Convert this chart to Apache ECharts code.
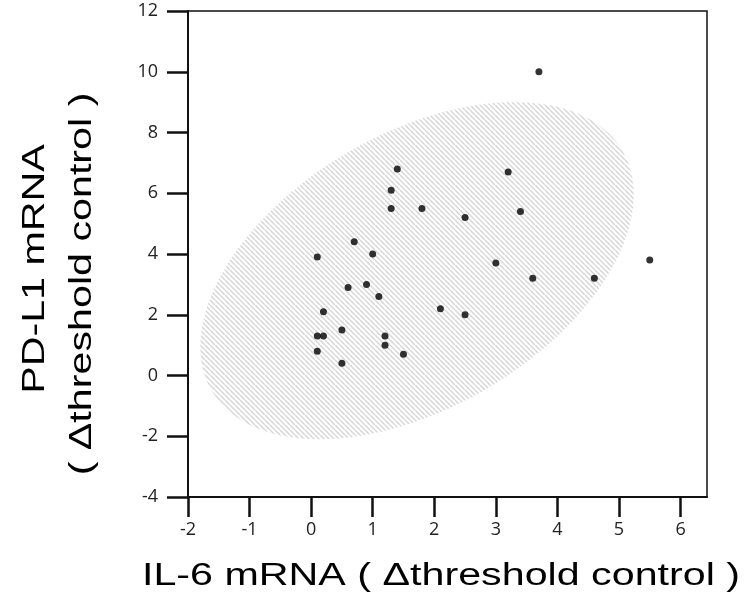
<!DOCTYPE html>
<html>
<head>
<meta charset="utf-8">
<script src="https://cdn.jsdelivr.net/npm/echarts@6/dist/echarts.min.js"></script>
<style>
html,body{margin:0;padding:0;background:#fff;}
#chart{width:752px;height:592px;}
</style>
</head>
<body>
<div id="chart"></div>
<script>
// ---- data ----
const il6 = [3.7, 1.4, 3.2, 1.3, 1.3, 1.8, 2.5, 3.4, 0.7, 0.1, 1.0, 3.0, 5.5, 3.6, 4.6,
             0.6, 0.9, 1.1, 0.2, 2.1, 2.5, 0.1, 0.2, 0.5, 1.2, 1.2, 0.1, 1.5, 0.5];
const pdl1 = [10.0, 6.8, 6.7, 6.1, 5.5, 5.5, 5.2, 5.4, 4.4, 3.9, 4.0, 3.7, 3.8, 3.2, 3.2,
              2.9, 3.0, 2.6, 2.1, 2.2, 2.0, 1.3, 1.3, 1.5, 1.3, 1.0, 0.8, 0.7, 0.4];
const xTicks = [-2, -1, 0, 1, 2, 3, 4, 5, 6];
const yTicks = [-4, -2, 0, 2, 4, 6, 8, 10, 12];
// confidence ellipse (data units): centre and covariance-like shape matrix
const ellipseCenter = [1.72, 3.45];
const ellipseShape = [[12.39, 8.8], [8.8, 30.8]];

const xName = 'IL-6 mRNA ( Δthreshold control )';
const yNameLines = ['PD-L1 mRNA', '( Δthreshold control )'];

// ---- hatch pattern ----
function makeHatch() {
  const s = 5;
  const c = document.createElement('canvas');
  c.width = s; c.height = s;
  const g = c.getContext('2d');
  g.fillStyle = '#ffffff';
  g.fillRect(0, 0, s, s);
  g.strokeStyle = '#d6d6d6';
  g.lineWidth = 1.5;
  for (let k = -1; k <= 1; k++) {
    g.beginPath();
    g.moveTo(k * s, 0);
    g.lineTo(k * s + s, s);
    g.stroke();
  }
  return c;
}
const hatch = makeHatch();

const points = il6.map((v, i) => [v, pdl1[i]]);

const chart = echarts.init(document.getElementById('chart'), null, {renderer: 'canvas'});

const titleFont = 'Liberation Sans';
const titleSize = 31;
const stretch = 1.33;

chart.setOption({
  animation: false,
  backgroundColor: '#fff',
  textStyle: {fontFamily: 'Open Sans'},
  grid: {
    left: 188, right: 45, top: 11, bottom: 95,
    show: true, borderColor: '#111', borderWidth: 1.5,
    containLabel: false, outerBoundsMode: 'none'
  },
  xAxis: {
    type: 'value', min: -2, max: 6.43, interval: 1,
    axisLine: {show: true, onZero: false, lineStyle: {color: '#111', width: 2}},
    axisTick: {show: true, length: 20, customValues: xTicks, lineStyle: {color: '#111', width: 2.5}},
    axisLabel: {
      show: true, customValues: xTicks, margin: 24,
      fontSize: 18, fontFamily: 'Open Sans', color: '#222',
      textStyle: {fontSize: 18, fontFamily: 'Open Sans', color: '#222'}
    },
    splitLine: {show: false}
  },
  yAxis: {
    type: 'value', min: -4, max: 12, interval: 2,
    axisLine: {show: true, onZero: false, lineStyle: {color: '#111', width: 2}},
    axisTick: {show: true, length: 21, customValues: yTicks, lineStyle: {color: '#111', width: 2.5}},
    axisLabel: {
      show: true, customValues: yTicks, margin: 30,
      fontSize: 18, fontFamily: 'Open Sans', color: '#222',
      textStyle: {fontSize: 18, fontFamily: 'Open Sans', color: '#222'}
    },
    splitLine: {show: false}
  },
  graphic: [
    {
      type: 'text', x: 441, y: 576, scaleX: stretch,
      style: {text: xName, font: titleSize + 'px "' + titleFont + '"', fill: '#000', align: 'center', verticalAlign: 'middle'}
    },
    {
      type: 'text', x: 35, y: 269, rotation: Math.PI / 2, scaleX: stretch,
      style: {text: yNameLines[0], font: titleSize + 'px "' + titleFont + '"', fill: '#000', align: 'center', verticalAlign: 'middle'}
    },
    {
      type: 'text', x: 82, y: 284, rotation: Math.PI / 2, scaleX: stretch,
      style: {text: yNameLines[1], font: titleSize + 'px "' + titleFont + '"', fill: '#000', align: 'center', verticalAlign: 'middle'}
    }
  ],
  series: [
    {
      type: 'custom',
      silent: true,
      z: 1,
      data: [ellipseCenter],
      encode: {x: 0, y: 1},
      renderItem: function (params, api) {
        const sxx = ellipseShape[0][0], sxy = ellipseShape[0][1], syy = ellipseShape[1][1];
        const l11 = Math.sqrt(sxx);
        const l21 = sxy / l11;
        const l22 = Math.sqrt(syy - l21 * l21);
        const pts = [];
        for (let i = 0; i < 120; i++) {
          const t = i / 120 * Math.PI * 2;
          const dx = l11 * Math.cos(t);
          const dy = l21 * Math.cos(t) + l22 * Math.sin(t);
          pts.push(api.coord([ellipseCenter[0] + dx, ellipseCenter[1] + dy]));
        }
        return {
          type: 'polygon',
          shape: {points: pts},
          style: {fill: {image: hatch, repeat: 'repeat'}, stroke: null}
        };
      }
    },
    {
      type: 'scatter',
      z: 3,
      symbol: 'circle',
      symbolSize: 7,
      itemStyle: {color: '#000'},
      data: points
    }
  ]
});
</script>
</body>
</html>
